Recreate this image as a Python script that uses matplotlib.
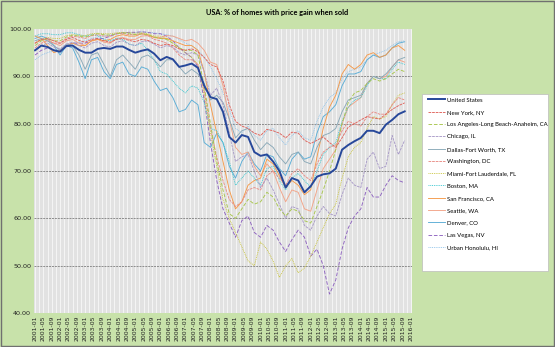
import matplotlib
matplotlib.use("Agg")
import matplotlib.pyplot as plt
from matplotlib.patches import Rectangle
from matplotlib.lines import Line2D
import pandas as pd

# ---------------- data ----------------
axis_months = pd.date_range("2001-01-01", "2016-01-01", freq="MS")
data_dates = pd.date_range("2001-01-01", "2015-10-01", freq="3MS")

us = [95.5, 96.5, 96.2, 95.5, 95.2, 96.4, 96.5, 95.6, 95.0, 95.0, 95.8, 96.0,
      95.8, 96.3, 96.3, 95.6, 95.0, 95.4, 95.7, 94.8, 93.4, 94.1, 93.6, 92.0,
      92.3, 92.7, 91.8, 88.0, 85.6, 85.2, 82.5, 77.2, 76.0, 77.6, 77.2, 74.0,
      73.2, 73.5, 72.0, 70.0, 66.5, 68.5, 68.0, 65.5, 66.8, 68.8, 69.3, 69.5,
      70.5, 74.5, 75.5, 76.3, 77.0, 78.5, 78.5, 78.0, 79.8, 80.8, 82.0, 82.6]
new_york = [97.0, 97.8, 98.0, 97.5, 97.0, 97.8, 98.2, 97.6, 97.2, 97.8, 98.0, 97.5,
            97.2, 97.8, 98.0, 97.6, 97.3, 97.8, 97.6, 97.0, 96.5, 96.8, 96.5, 95.8,
            95.5, 95.8, 95.2, 94.0, 92.5, 92.0, 89.0, 84.0, 80.5, 79.5, 79.0, 78.0,
            77.5, 78.8, 78.5, 78.0, 77.0, 78.2, 78.0, 76.5, 75.8, 76.5, 77.2, 76.0,
            75.0, 77.0, 79.3, 80.0, 80.8, 81.5, 81.2, 81.0, 82.0, 83.0, 83.8, 84.4]
los_angeles = [96.5, 97.5, 98.0, 97.5, 97.5, 98.3, 98.7, 98.5, 98.3, 98.7, 99.0, 98.8,
               98.7, 99.0, 99.2, 99.0, 98.8, 99.0, 98.8, 98.3, 98.0, 97.8, 97.0, 96.0,
               95.5, 95.5, 94.5, 88.0, 80.0, 72.0, 66.0, 61.0, 60.0, 62.0, 64.0, 63.0,
               63.5, 65.5, 64.5, 62.0, 60.5, 62.0, 61.5, 59.5, 59.0, 62.5, 66.0, 70.0,
               74.5, 80.0, 84.5, 86.5, 87.0, 88.5, 89.5, 89.0, 89.5, 90.5, 91.5, 91.0]
chicago = [95.5, 96.5, 97.0, 96.2, 95.8, 96.8, 97.2, 96.5, 96.0, 97.0, 97.3, 96.5,
           96.2, 97.2, 97.5, 96.8, 96.5, 97.3, 97.5, 96.8, 96.0, 96.5, 96.2, 95.0,
           94.5, 95.0, 94.5, 91.0, 86.0, 87.5, 84.0, 78.0, 72.0, 73.0, 73.5, 70.0,
           66.5, 68.5, 66.0, 63.0, 60.0, 62.5, 62.0, 58.5, 57.5, 60.5, 62.5, 61.0,
           60.5, 65.0, 68.5, 67.0, 66.5, 72.5, 74.0, 70.5, 71.0, 77.5, 73.5, 76.5]
dallas = [97.5, 98.0, 97.5, 96.5, 95.5, 96.8, 96.5, 94.5, 91.5, 94.5, 95.0, 92.5,
          90.0, 93.5, 94.5, 93.0, 91.5, 94.0, 94.5, 93.5, 92.0, 93.5, 93.5, 92.0,
          90.5, 91.5, 90.5, 88.5, 85.0, 86.0, 84.5, 81.0, 77.0, 78.5, 79.0, 76.5,
          74.5, 76.0, 75.0, 73.0, 71.5, 73.5, 74.0, 72.0, 71.5, 75.0, 77.5, 78.0,
          79.0, 82.5, 85.0, 85.5, 86.0, 88.5, 90.0, 89.5, 90.5, 92.0, 93.5, 94.0]
washington = [96.0, 97.0, 97.5, 97.0, 97.0, 98.0, 98.5, 98.3, 98.0, 98.6, 98.8, 98.5,
              98.5, 99.0, 99.1, 98.8, 98.8, 99.0, 98.6, 97.8, 97.5, 97.0, 96.0, 94.5,
              93.5, 93.5, 92.5, 87.0, 79.0, 73.0, 68.0, 64.0, 62.5, 63.5, 66.0, 66.5,
              66.0, 69.0, 70.0, 68.5, 67.0, 69.5, 70.5, 69.0, 68.0, 71.5, 74.0, 75.0,
              75.5, 78.5, 80.5, 80.0, 79.5, 81.5, 82.5, 82.0, 82.0, 84.0, 85.5, 85.0]
miami = [97.0, 97.8, 98.2, 98.0, 98.0, 98.6, 98.8, 98.7, 98.6, 99.0, 99.1, 99.0,
         99.0, 99.2, 99.3, 99.2, 99.1, 99.2, 99.0, 98.5, 98.5, 98.0, 97.0, 96.0,
         95.0, 94.0, 92.5, 86.0, 78.0, 71.0, 64.0, 60.0, 57.0, 54.0, 51.0, 50.0,
         55.0, 53.5, 51.0, 47.5, 50.0, 51.5, 48.5, 49.5, 52.0, 55.0, 58.0, 61.0,
         63.0, 68.5, 73.0, 75.0, 76.0, 79.0, 81.5, 81.0, 81.5, 84.0, 86.0, 86.5]
boston = [98.5, 99.0, 99.0, 98.8, 98.8, 99.2, 99.2, 98.8, 98.5, 98.8, 98.6, 97.8,
          97.5, 98.0, 97.8, 96.8, 96.5, 97.0, 95.5, 93.5, 91.0, 90.5, 89.0, 87.5,
          86.5, 88.0, 87.5, 84.5, 79.0, 78.5, 76.0, 72.0, 67.0, 68.5, 70.0, 68.5,
          67.0, 70.5, 71.0, 68.0, 66.0, 68.5, 69.5, 68.0, 66.5, 70.0, 73.5, 75.0,
          76.0, 80.5, 83.5, 85.0, 85.5, 88.0, 90.0, 89.5, 89.5, 91.5, 93.0, 92.5]
san_francisco = [98.5, 98.0, 96.5, 95.0, 95.5, 96.5, 97.0, 96.5, 96.5, 97.5, 97.8, 97.5,
                 97.8, 98.5, 98.8, 98.5, 98.5, 99.0, 98.8, 98.2, 98.0, 98.0, 97.5, 97.0,
                 96.5, 96.5, 95.5, 91.0, 84.0, 78.0, 72.0, 66.0, 62.0, 63.5, 67.0, 68.0,
                 68.5, 72.5, 71.5, 69.0, 66.5, 68.0, 67.0, 65.0, 66.0, 73.0, 79.0, 83.5,
                 86.0, 90.5, 92.5, 91.5, 92.5, 94.5, 95.0, 94.0, 94.5, 96.0, 96.5, 95.5]
seattle = [97.0, 97.8, 97.8, 97.0, 96.5, 97.5, 97.8, 97.0, 96.5, 97.5, 97.8, 97.2,
           97.0, 98.0, 98.2, 97.8, 97.8, 98.5, 98.6, 98.3, 98.2, 98.6, 98.5, 98.0,
           97.5, 97.8, 97.0, 95.5, 93.0, 92.5, 88.0, 81.0, 75.0, 73.5, 74.0, 71.0,
           69.0, 71.5, 70.0, 66.5, 63.5, 66.0, 65.5, 62.0, 61.5, 66.0, 70.5, 72.5,
           74.5, 80.0, 83.5, 84.5, 85.5, 88.5, 90.0, 89.5, 90.0, 92.0, 93.5, 93.0]
denver = [98.0, 98.5, 98.0, 96.5, 94.5, 96.5, 96.0, 93.0, 89.5, 93.5, 94.0, 91.0,
          89.5, 92.5, 93.0, 90.5, 90.0, 92.0, 91.5, 89.0, 87.0, 87.5, 85.5, 82.5,
          83.0, 85.0, 84.0, 76.0, 75.0, 78.0, 76.0, 71.0, 68.5, 72.0, 74.0, 71.5,
          70.0, 73.5, 73.0, 70.5, 69.0, 72.5, 74.0, 72.5, 73.0, 78.0, 81.5, 82.5,
          84.0, 88.0, 90.5, 90.5, 91.0, 93.5, 94.5, 94.0, 94.5, 96.0, 97.0, 97.3]
las_vegas = [94.5, 95.5, 96.0, 95.5, 95.5, 96.5, 97.0, 97.0, 97.0, 97.5, 98.0, 98.0,
             98.5, 99.0, 99.2, 99.3, 99.3, 99.4, 99.3, 99.0, 99.0, 98.5, 97.5, 96.0,
             95.0, 94.0, 92.0, 85.0, 76.0, 68.0, 62.0, 59.0, 56.0, 59.5, 60.5, 57.0,
             56.0, 58.5, 57.5, 55.0, 53.0, 55.5, 57.5, 56.0, 52.0, 53.5, 50.0, 44.0,
             47.0, 53.5, 58.0, 60.5, 62.0, 66.5, 64.5, 64.5, 67.0, 69.0, 68.0, 67.5]
honolulu = [93.5, 94.5, 95.0, 95.5, 95.5, 96.5, 97.0, 97.2, 97.5, 98.0, 98.3, 98.5,
            98.7, 99.0, 99.2, 99.2, 99.2, 99.4, 99.3, 99.2, 99.0, 98.8, 98.5, 97.8,
            97.0, 96.5, 95.5, 94.0, 92.0, 89.5, 86.5, 83.0, 79.0, 78.0, 79.5, 77.5,
            76.5, 78.5, 79.0, 77.0, 75.5, 77.5, 78.5, 77.0, 76.5, 80.5, 83.5, 85.5,
            86.5, 89.5, 91.0, 91.5, 92.0, 93.5, 94.5, 95.0, 95.5, 96.5, 97.3, 97.5]

series_names = ["United States", "New York, NY", "Los Angeles-Long Beach-Anaheim, CA",
                "Chicago, IL", "Dallas-Fort Worth, TX", "Washington, DC",
                "Miami-Fort Lauderdale, FL", "Boston, MA", "San Francisco, CA",
                "Seattle, WA", "Denver, CO", "Las Vegas, NV", "Urban Honolulu, HI"]
series_values = [us, new_york, los_angeles, chicago, dallas, washington, miami,
                 boston, san_francisco, seattle, denver, las_vegas, honolulu]

y_ticks = [40, 50, 60, 70, 80, 90, 100]

# ---------------- styles ----------------
colors = ["#27489A", "#E0625A", "#A8C64E", "#A99BC8", "#8AA9B8", "#E88C84",
          "#C9C43C", "#34C6D0", "#F59A4A", "#F2A488", "#5AADD6", "#8E63C0", "#8FC3EA"]
styles = ["-", (0, (3, 1)), (0, (4, 2)), (0, (3, 1)), "-", (0, (3, 1)),
          (0, (1, 1)), (0, (1, 1)), "-", "-", "-", (0, (4, 2)), (0, (1, 1))]
widths = [1.4] + [0.65] * 12
FONT = ["Lato", "DejaVu Sans"]

W, H = 555, 347
fig = plt.figure(figsize=(W / 100, H / 100), dpi=100)
fig.patch.set_facecolor("#C8E2AA")
fig.patches.append(Rectangle((0.001, 0.002), 0.997, 0.995, transform=fig.transFigure,
                             fill=False, edgecolor="#707070", linewidth=1.0))

ax = fig.add_axes([34 / W, 1 - 313 / H, (412 - 34) / W, (313 - 29) / H])
ax.set_facecolor("#E2E2E2")

cat_index = {d: i for i, d in enumerate(axis_months)}
xs = [cat_index[d] for d in data_dates]

for name, vals, c, ls, lw in reversed(list(zip(series_names, series_values, colors, styles, widths))):
    ax.plot(xs, vals, color=c, linestyle=ls, linewidth=lw,
            zorder=5 if name == "United States" else 3)

ax.set_xlim(-0.5, len(axis_months) - 0.5)
ax.set_ylim(40, 100)
tick_pos = list(range(0, len(axis_months), 4))
ax.set_xticks(tick_pos)
ax.set_xticklabels([axis_months[i].strftime("%Y-%m") for i in tick_pos],
                   rotation=90, fontsize=4.4, color="#222222")
ax.set_yticks(y_ticks)
ax.set_yticklabels([f"{v:.2f}" for v in y_ticks], fontsize=4.6, color="#222222")
ax.tick_params(length=0, pad=2)
for x in range(0, len(axis_months), 2):
    ax.axvline(x, color="white", linewidth=0.45, zorder=1)
for y in y_ticks[1:-1]:
    ax.axhline(y, color="#8C8C8C", linewidth=0.7, linestyle=(0, (2, 1)), zorder=2)
for s in ax.spines.values():
    s.set_visible(False)

fig.text(0.5, 1 - 12 / H, "USA: % of homes with price gain when sold", ha="center",
         va="center", fontsize=5.3, fontweight="bold", family=FONT)

# legend box
fig.patches.append(Rectangle((422 / W, 1 - 271 / H), (548 - 422) / W, (271 - 94) / H,
                             transform=fig.transFigure, facecolor="white",
                             edgecolor="#BBBBBB", linewidth=0.5, zorder=1))
handles = [Line2D([], [], color=c, linestyle=ls, linewidth=lw)
           for c, ls, lw in zip(colors, styles, widths)]
leg = fig.legend(handles, series_names, loc="upper left",
                 bbox_to_anchor=(426 / W, 1 - 95 / H), frameon=False,
                 prop={"family": FONT, "size": 4.3},
                 labelspacing=1.19, handlelength=2.7, handletextpad=0.45, borderaxespad=0.0)

fig.savefig("out.png", dpi=100, facecolor=fig.get_facecolor())
